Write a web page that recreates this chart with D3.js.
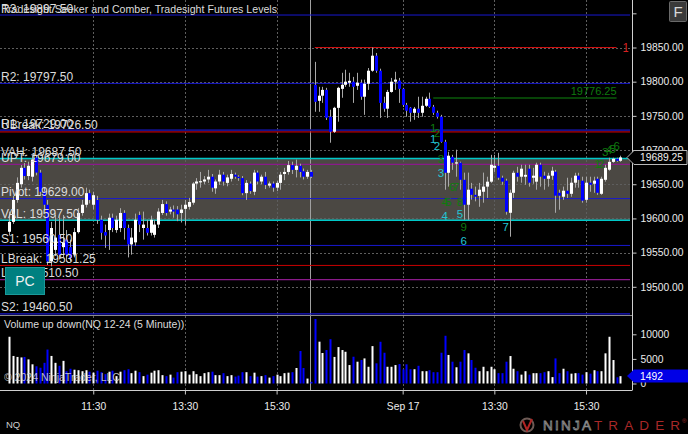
<!DOCTYPE html>
<html><head><meta charset="utf-8">
<script src="https://cdn.jsdelivr.net/npm/d3@7"></script>
<style>html,body{margin:0;padding:0;background:#000;overflow:hidden}</style>
</head><body>
<svg id="c" width="688" height="434"></svg>
<script>
// ---------------- DATA ----------------
const sessionDays = ["09-16", "09-17"];
const sessionStarts = ["09:40", "09:35"];
const sessionBars = [80, 81];

const opens = [
 19580.5,19595,19627,19650,19674,19662,19661,19689,19667,19639,
 19620,19537,19554,19576,19558,19569,19558,19547,19580,19608,
 19620,19637,19620,19627,19598,19580,19583,19601,19583,19586,
 19608,19586,19562,19565,19605,19586,19586,19579,19576,19591,
 19608,19621,19610,19613,19613,19608,19614,19617,19623,19651,
 19654,19654,19657,19661,19644,19654,19664,19652,19658,19664,
 19661,19659,19637,19651,19639,19667,19654,19661,19648,19651,
 19645,19652,19665,19668,19678,19671,19677,19669,19661,19668,
 19795.5,19772,19779.5,19788,19748.75,19726.75,19761.75,19789.5,19795.5,19798.5,
 19800,19794,19798.5,19778,19797,19816,19838,19816,19769,19760.5,
 19785,19800,19801.5,19789.5,19766,19762,19754.5,19760.5,19754.5,19764.75,
 19775,19763.25,19754.5,19748.75,19712,19666.75,19690,19681.5,19681.5,19656.5,
 19620,19643.5,19634.5,19633,19639,19646.5,19653.75,19674,19677,19659.5,
 19655.25,19608.25,19637.5,19666.75,19661,19661,19672.75,19659.5,19653.75,19678.5,
 19662.5,19658,19662.5,19668.25,19637.5,19631.75,19640.5,19636,19652.25,19662.5,
 19655.25,19627.25,19652.25,19650.75,19658,19636,19656.5,19671.25,19682.75,19687.25,
 19684.25];
const highs = [
 19610,19633,19660,19678,19681,19683,19692,19693,19671,19645,
 19627,19595,19605,19601,19605,19583,19569,19586,19615,19627,
 19645,19642,19639,19633,19604,19591,19607,19607,19604,19615,
 19612,19591,19586,19607,19610,19610,19598,19604,19598,19615,
 19627,19625,19617,19619,19618,19620,19627,19630,19653,19659,
 19668,19662,19671,19665,19657,19671,19668,19664,19671,19667,
 19663,19662,19656,19654,19671,19670,19664,19668,19654,19654,
 19655,19668,19674,19684,19683,19686,19680,19673,19671,19671,
 19829,19792.5,19792.5,19791,19759,19763.25,19792.5,19813,19817.5,19813,
 19807,19813,19803,19803,19820,19850,19842,19819,19778,19788,
 19805.5,19814.5,19805.5,19791,19769,19763,19763,19778,19778,19778,
 19784,19766,19757.5,19751.5,19715,19697.5,19693,19700.5,19683,19667,
 19667,19652,19646.5,19652,19667,19661,19693,19693,19696,19662.5,
 19658,19642,19669.75,19675.5,19678.5,19678.5,19678.5,19674,19681.5,19681.5,
 19668.25,19666.75,19675.5,19671,19642,19646.5,19659.5,19659.5,19666.75,19666.75,
 19661,19661,19661,19661,19661,19661,19678.5,19688.75,19688.75,19688.75,
 19691.75];
const lows = [
 19575,19592,19623,19645,19657,19656,19654,19663,19633,19612,
 19532,19530,19545,19540,19543,19537,19537,19543,19578,19604,
 19616,19622,19613,19592,19569,19557,19554,19580,19579,19580,
 19569,19543,19547,19560,19580,19569,19575,19575,19572,19586,
 19605,19604,19606,19601,19596,19594,19591,19613,19620,19642,
 19645,19650,19652,19639,19636,19649,19648,19647,19654,19658,
 19655,19634,19627,19636,19634,19650,19650,19643,19645,19639,
 19640,19642,19656,19664,19665,19660,19660,19657,19658,19659,
 19756,19756,19769,19744,19710.75,19725,19741.5,19776.5,19792.5,19792.5,
 19769,19788,19773.5,19751.5,19788,19814.5,19813,19747,19756,19747,
 19784,19788,19769,19763,19748.75,19741.5,19744.25,19747,19748.75,19763,
 19761.75,19751.5,19746,19710.75,19642,19646.5,19671,19661,19642,19598,
 19598,19627.5,19625,19617,19623,19630,19652,19668,19656.5,19649.25,
 19605.5,19573.25,19630,19653.75,19652.25,19649.25,19646.5,19650.75,19642,19646.5,
 19642,19646.5,19656.5,19608.25,19612.75,19627.25,19630,19631.75,19645,19645,
 19623,19623,19639,19637.5,19634.5,19634.5,19653.75,19669.75,19681.5,19682.75,
 19682.75];
const closes = [
 19595,19627,19652,19674,19662,19677,19686,19667,19639,19620,
 19537,19586,19572,19547,19565,19547,19542,19580,19608,19620,
 19637,19627,19634,19598,19579,19575,19601,19586,19598,19608,
 19586,19562,19572,19598,19591,19591,19579,19598,19591,19610,
 19621,19608,19613,19610,19606,19613,19620,19624,19651,19654,
 19654.5,19657,19661,19645,19654,19664,19654,19660,19665,19661,
 19659,19637,19652,19640,19667,19654,19661,19649,19651,19645,
 19652,19664,19668,19678,19671,19677,19668,19661,19668,19661,
 19770.5,19779.5,19788,19747.25,19726.75,19761.75,19791,19795.5,19800,19801.25,
 19792.5,19798.5,19778,19797,19816,19838,19816,19769,19760.5,19785,
 19800,19803,19789.5,19766,19757.5,19754.5,19760.5,19754.5,19764.75,19775,
 19763.25,19754.5,19748.75,19712,19666.75,19691.75,19681.5,19682,19656.5,19620,
 19642,19634.5,19631.75,19642,19646.5,19653.75,19678.5,19677,19659.5,19653.75,
 19609.75,19637.5,19666.75,19661,19672.75,19663.75,19652.25,19662.5,19678.5,19661,
 19658,19662.5,19669.75,19633.25,19633.25,19640.5,19636,19652.25,19662.5,19656.5,
 19626,19652.25,19649.25,19655.25,19637.5,19658,19674,19682.75,19687.25,19684.25,
 19689.25];
const volumes = [
 9500,5600,5400,5300,5400,4900,3900,3500,3200,4200,
 6900,5600,4200,3600,4600,2500,3000,2800,2700,2500,
 2700,2400,2200,2600,2300,1900,2400,2600,1500,2400,
 2700,2900,2100,2600,2300,1500,1800,2200,2600,2700,
 1700,1500,1800,1200,2300,2400,2500,1800,2500,1900,
 1500,2100,2300,2400,1700,1700,2100,1500,1700,1400,
 1600,2300,2300,1500,2200,1400,1500,1700,1200,1500,
 1800,1500,2100,2200,2300,3150,6600,3150,1000,340,
 13100,8500,6200,6800,9000,5400,7400,6800,6450,3750,
 5440,4430,4770,5100,3400,7600,4100,8480,6250,3400,
 3400,3750,3950,2880,3900,2900,2900,3600,2500,2500,
 2700,2300,2300,6250,9700,5800,4430,3300,4430,6800,
 6130,4770,3200,2500,3400,2500,3400,2900,2100,2100,
 4430,5580,3000,2500,1800,2500,1800,2100,2100,2100,
 2300,2500,1300,5100,2100,3000,2500,2000,2100,2100,
 1800,2300,2000,2700,2500,2500,6130,9500,4770,1260,
 1492];

const priceTicks = [19500,19550,19600,19650,19700,19750,19800,19850,19900];
const volumeTicks = [0,5000,10000];
const timeTickKeys = ["09-16 11:30","09-16 13:30","09-16 15:30","09-17 11:30","09-17 13:30","09-17 15:30"];
const timeTickLabels = ["11:30","13:30","15:30","Sep 17","13:30","15:30"];

const levelNames  = ["R3","R2","R1","UBreak","VAH","UPT","Pivot","VAL","S1","LBreak","LPT","S2"];
const levelValues = [19897.50,19797.50,19729.00,19726.50,19687.50,19679.00,19629.00,19597.50,19560.50,19531.25,19510.50,19460.50];

const dayHigh = {value: 19850.00, from: "09-17 09:35", to: "09-17 16:10"};
const targetLine = {value: 19776.25, from: "09-17 12:10", to: "09-17 16:10"};

const countTexts  = ["1","2","3","4","5","6","7","8","9","1","2","3","4","5","6",
                     "1","2","3","4","5","6","7"];
const countTimes  = ["12:10","12:15","12:20","12:25","12:30","12:35","12:40","12:45","12:50","15:45","15:50","15:55","16:00","16:05","16:10",
                     "12:10","12:15","12:20","12:25","12:45","12:50","13:45"];
const countPrices = [19727.1,19719.8,19681.1,19618.2,19618.2,19640.1,19640.1,19618.2,19580.9,19673.8,19673.8,19692.0,19694.2,19695.7,19699.4,
                     19710.3,19700.1,19661.3,19597.7,19600.6,19561.1,19580.9];
const countKinds  = ["g","g","g","g","g","g","g","g","g","g","g","g","g","g","g",
                     "c","c","c","c","c","c","c"];

const titleText = "Tradesight Seeker and Comber, Tradesight Futures Levels";
const volumeTitle = "Volume up down(NQ 12-24 (5 Minute))";
const instrument = "NQ";
const copyright = "\u00A9 2024 NinjaTrader, LLC";

// ---------------- BUILD ----------------
const pad = n => String(n).padStart(2, "0");
const keys = [];
sessionDays.forEach((d, s) => {
  const [h, m] = sessionStarts[s].split(":").map(Number);
  for (let i = 0; i < sessionBars[s]; i++) {
    const t = h * 60 + m + 5 * i;
    keys.push(`${d} ${pad(Math.floor(t / 60))}:${pad(t % 60)}`);
  }
});
const bars = keys.map((k, i) => ({k, o: opens[i], h: highs[i], l: lows[i], c: closes[i], v: volumes[i]}));

const FONT = "'Liberation Sans', Arial, sans-serif";
const AX = 632;
const svg = d3.select("#c");
svg.append("rect").attr("width", 688).attr("height", 434).attr("fill", "#000");

const x = d3.scalePoint().domain(keys).range([9.2, 620.4]);
const y = d3.scaleLinear().domain([19500, 19850]).range([286.8, 47.5]);
const vy = d3.scaleLinear().domain([0, 10000]).range([383.5, 334.3]);
const px = v => Math.round(v);

const defs = svg.append("defs");
defs.append("clipPath").attr("id", "pclip").append("rect").attr("x", 0).attr("y", 0).attr("width", AX - 1).attr("height", 315);
defs.append("clipPath").attr("id", "hclip").append("rect").attr("x", 0).attr("y", 0).attr("width", 628.5).attr("height", 315);

const levelStyle = {
  R3: ["#1818d0", 1], R2: ["#1818d0", 1], R1: ["#12128c", 2], UBreak: ["#e00000", 1],
  VAH: ["#00c8c8", 1.5], UPT: ["#8a1a8a", 1.2], Pivot: ["#1818d0", 1], VAL: ["#00c8c8", 1.5],
  S1: ["#1818d0", 1], LBreak: ["#c80000", 1], LPT: ["#8a1a8a", 1.2], S2: ["#1818d0", 1.2]
};
const lv = n => levelValues[levelNames.indexOf(n)];

// value area fill
svg.append("rect").attr("x", 0).attr("width", 630)
  .attr("y", y(lv("VAH"))).attr("height", y(lv("VAL")) - y(lv("VAH")))
  .attr("fill", "#4b4843");

// grids
const grid = svg.append("g").attr("stroke", "#5e5e5e").attr("stroke-dasharray", "2,2");
priceTicks.filter(v => v <= 19850).forEach(v => {
  grid.append("line").attr("x1", 0).attr("x2", AX).attr("y1", px(y(v)) + 0.5).attr("y2", px(y(v)) + 0.5);
});
timeTickKeys.forEach(k => {
  grid.append("line").attr("x1", px(x(k)) + 0.5).attr("x2", px(x(k)) + 0.5).attr("y1", 0).attr("y2", 390);
});

// session break
const lastDay1 = keys[sessionBars[0] - 1];
svg.append("line").attr("x1", px(x(lastDay1)) - 0.5).attr("x2", px(x(lastDay1)) - 0.5)
  .attr("y1", 0).attr("y2", 390).attr("stroke", "#a0a0a0").attr("stroke-width", 1);

// level lines
levelNames.forEach((n, i) => {
  const [col, w] = levelStyle[n];
  const yy = y(levelValues[i]);
  svg.append("line").attr("x1", 0).attr("x2", 630).attr("y1", yy).attr("y2", yy)
    .attr("stroke", col).attr("stroke-width", w);
});

// day high line + target line
svg.append("line").attr("x1", x(dayHigh.from)).attr("x2", x(dayHigh.to))
  .attr("y1", y(dayHigh.value)).attr("y2", y(dayHigh.value)).attr("stroke", "#d01010").attr("stroke-width", 1);
svg.append("line").attr("x1", x(targetLine.from)).attr("x2", x(targetLine.to))
  .attr("y1", y(targetLine.value)).attr("y2", y(targetLine.value)).attr("stroke", "#0a5a0a").attr("stroke-width", 1.5);

// candles
const cg = svg.append("g").attr("clip-path", "url(#pclip)");
bars.forEach(b => {
  const cx = px(x(b.k));
  cg.append("line").attr("x1", cx + 0.5).attr("x2", cx + 0.5).attr("y1", y(b.h)).attr("y2", y(b.l))
    .attr("stroke", "#a8a8a8").attr("stroke-width", 1);
  const top = y(Math.max(b.o, b.c)), bot = y(Math.min(b.o, b.c));
  cg.append("rect").attr("x", cx - 1).attr("width", 3).attr("y", top).attr("height", Math.max(1.2, bot - top))
    .attr("fill", b.c > b.o ? "#ffffff" : "#0000ff");
});

// volume bars
const vg = svg.append("g");
bars.forEach(b => {
  const cx = px(x(b.k));
  vg.append("rect").attr("x", cx - 0.5).attr("width", 2).attr("y", vy(b.v)).attr("height", vy(0) - vy(b.v))
    .attr("fill", b.c > b.o ? "#ffffff" : "#0000ff");
});

// panel separators and axis lines
svg.append("line").attr("x1", 0).attr("x2", AX).attr("y1", 315.5).attr("y2", 315.5).attr("stroke", "#8a8a8a");
svg.append("line").attr("x1", 0).attr("x2", AX).attr("y1", 390.5).attr("y2", 390.5).attr("stroke", "#d0d0d0");
svg.append("line").attr("x1", AX + 0.5).attr("x2", AX + 0.5).attr("y1", 0).attr("y2", 390.5).attr("stroke", "#d0d0d0");

function styleAxis(g) {
  g.select(".domain").remove();
  g.selectAll(".tick line").attr("stroke", "#c8c8c8");
  g.selectAll(".tick text").attr("fill", "#ececec").attr("font-family", FONT).attr("font-size", 10.3);
}
const pa = svg.append("g").attr("transform", `translate(${AX + 0.5},0)`)
  .call(d3.axisRight(y).tickValues(priceTicks).tickSize(4).tickPadding(4).tickFormat(d3.format(".2f")));
styleAxis(pa);
pa.selectAll(".tick text").filter(d => d > 19850).remove();

const va = svg.append("g").attr("transform", `translate(${AX + 0.5},0)`)
  .call(d3.axisRight(vy).tickValues(volumeTicks).tickSize(4).tickPadding(4).tickFormat(d3.format("d")));
styleAxis(va);

const ta = svg.append("g").attr("transform", "translate(0,390.5)")
  .call(d3.axisBottom(x).tickValues(timeTickKeys).tickSize(4).tickPadding(8)
    .tickFormat(k => timeTickLabels[timeTickKeys.indexOf(k)]));
styleAxis(ta);

// level labels
levelNames.forEach((n, i) => {
  svg.append("text").attr("x", 1).attr("y", y(levelValues[i]) - 2.5)
    .attr("font-family", FONT).attr("font-size", 12).attr("fill", "#dcdcdc")
    .text(`${n}: ${levelValues[i].toFixed(2)}`);
});

// title
svg.append("text").attr("x", 2).attr("y", 13).attr("font-family", FONT).attr("font-size", 10.5)
  .attr("textLength", 275).attr("lengthAdjust", "spacingAndGlyphs")
  .attr("fill", "#dcdcdc").text(titleText);

// target & high labels
svg.append("text").attr("x", x(targetLine.to)).attr("y", y(targetLine.value) - 3).attr("text-anchor", "end")
  .attr("font-family", FONT).attr("font-size", 11).attr("fill", "#0e7a0e").text(targetLine.value.toFixed(2));
svg.append("g").attr("clip-path", "url(#hclip)").append("text")
  .attr("x", x(dayHigh.to) + 6).attr("y", y(dayHigh.value) + 4.5)
  .attr("font-family", FONT).attr("font-size", 12).attr("fill", "#d82020").text(dayHigh.value.toFixed(2));

// count labels
countTexts.forEach((t, i) => {
  svg.append("text").attr("x", x("09-17 " + countTimes[i])).attr("y", y(countPrices[i]))
    .attr("text-anchor", "middle").attr("font-family", FONT).attr("font-size", 11.5)
    .attr("fill", countKinds[i] === "g" ? "#0f7a0f" : "#22c4d4").text(t);
});

// PC button
svg.append("rect").attr("x", 5.5).attr("y", 267.5).attr("width", 39).attr("height", 27)
  .attr("fill", "#008080").attr("stroke", "#1a9a9a");
svg.append("text").attr("x", 25).attr("y", 286).attr("text-anchor", "middle")
  .attr("font-family", FONT).attr("font-size", 14).attr("fill", "#f0f0f0").text("PC");

// F button
svg.append("rect").attr("x", 669.5).attr("y", 1.5).attr("width", 17).attr("height", 20).attr("rx", 1)
  .attr("fill", "#3a3a3a").attr("stroke", "#6a6a6a");
svg.append("text").attr("x", 678).attr("y", 17).attr("text-anchor", "middle")
  .attr("font-family", FONT).attr("font-size", 15).attr("fill", "#d8d8d8").text("F");

// last price marker
const lastBar = bars[bars.length - 1];
const ly = px(y(lastBar.c)) + 0.5;
svg.append("path").attr("d", `M627,${ly} L634,${ly - 7} L687,${ly - 7} L687,${ly + 7} L634,${ly + 7} Z`)
  .attr("fill", "#000").attr("stroke", "#b8b8b8");
svg.append("text").attr("x", 640).attr("y", ly + 3.5).attr("font-family", FONT).attr("font-size", 10.3)
  .attr("fill", "#f0f0f0").text(lastBar.c.toFixed(2));

// last volume marker
const vly = 376;
svg.append("path").attr("d", `M627,${vly} L634,${vly - 6.5} L688,${vly - 6.5} L688,${vly + 6.5} L634,${vly + 6.5} Z`)
  .attr("fill", "#0000e6");
svg.append("text").attr("x", 640).attr("y", vly + 3.5).attr("font-family", FONT).attr("font-size", 10.3)
  .attr("fill", "#ffffff").text(String(lastBar.v));

// volume panel texts
svg.append("text").attr("x", 4).attr("y", 328).attr("font-family", FONT).attr("font-size", 10.5)
  .attr("fill", "#dcdcdc").text(volumeTitle);
svg.append("text").attr("x", 4).attr("y", 381).attr("font-family", FONT).attr("font-size", 10.5)
  .attr("fill", "#d8d8d8").attr("opacity", 0.85).text(copyright);
svg.append("text").attr("x", 6).attr("y", 428).attr("font-family", FONT).attr("font-size", 9.5)
  .attr("fill", "#cfcfcf").text(instrument);

// NinjaTrader logo
const logo = svg.append("g");
logo.append("circle").attr("cx", 527).attr("cy", 425).attr("r", 6.5).attr("fill", "none")
  .attr("stroke", "#6e5a55").attr("stroke-width", 2);
logo.append("path").attr("d", "M523,421 L527,430 L532,419").attr("fill", "none").attr("stroke", "#b02424").attr("stroke-width", 2);
logo.append("text").attr("x", 543).attr("y", 430).attr("font-family", FONT).attr("font-size", 13.5)
  .attr("textLength", 48).attr("lengthAdjust", "spacing").attr("fill", "none").attr("stroke", "#8a8a8a").attr("stroke-width", 0.8).text("NINJA");
logo.append("text").attr("x", 594).attr("y", 430).attr("font-family", FONT).attr("font-size", 13.5)
  .attr("textLength", 86).attr("lengthAdjust", "spacing").attr("fill", "#a82828").text("TRADER");
logo.append("text").attr("x", 682).attr("y", 423).attr("font-family", FONT).attr("font-size", 6)
  .attr("fill", "#a82828").text("\u00AE");
</script>
</body></html>
